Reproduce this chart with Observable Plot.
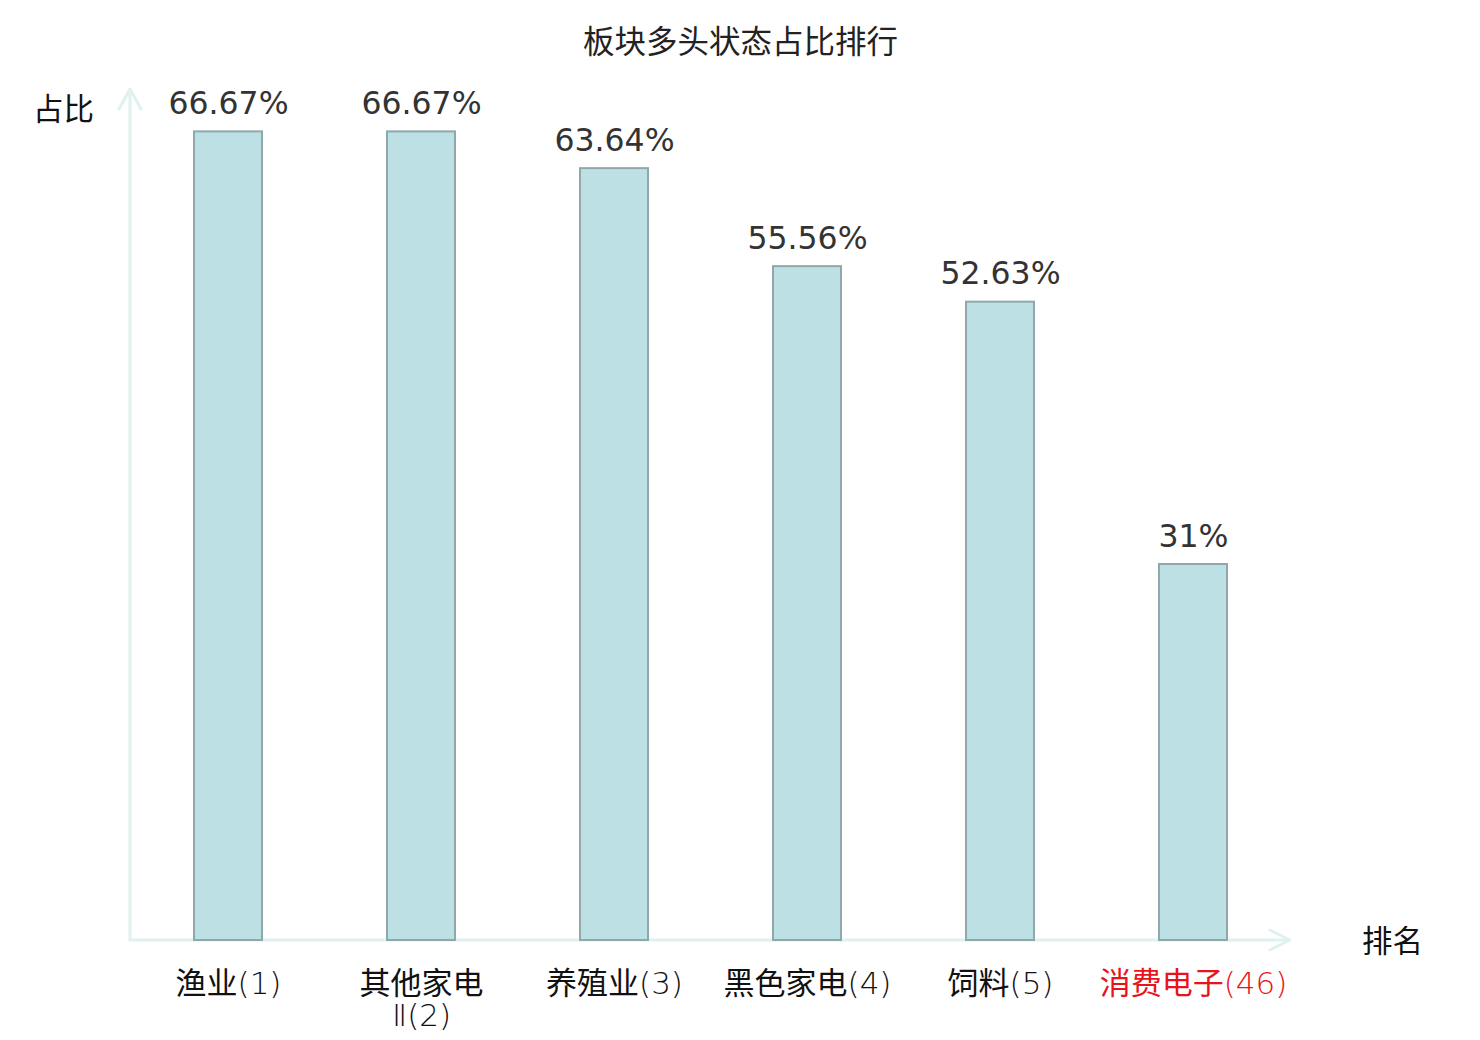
<!DOCTYPE html>
<html><head><meta charset="utf-8">
<script src="https://cdn.jsdelivr.net/npm/d3@7"></script>
<script src="https://cdn.jsdelivr.net/npm/@observablehq/plot@0.6"></script>
<style>body{margin:0;background:#fff}</style>
</head><body><div id="chart"></div>
<script>
const categories = ["渔业","其他家电Ⅱ","养殖业","黑色家电","饲料","消费电子"];
const values = [66.67, 66.67, 63.64, 55.56, 52.63, 31];
const valueLabels = ["66.67%","66.67%","63.64%","55.56%","52.63%","31%"];
const tickLabels = ["渔业(1)","其他家电\nⅡ(2)","养殖业(3)","黑色家电(4)","饲料(5)","消费电子(46)"];
const labelColors = ["#111","#111","#111","#111","#111","#e8141b"];
const title = "板块多头状态占比排行";
const yName = "占比";
const xName = "排名";

const data = categories.map((c, i) => ({category: c, value: values[i], label: valueLabels[i], tick: tickLabels[i], color: labelColors[i]}));

const chart = Plot.plot({
  width: 1480,
  height: 1040,
  marginLeft: 130,
  marginRight: 190,
  marginTop: 91,
  marginBottom: 100,
  style: {fontFamily: "'Noto Sans CJK SC', sans-serif", background: "#fff"},
  x: {domain: categories, paddingInner: 0.65, paddingOuter: 0.325, axis: null},
  y: {domain: [0, 70], axis: null},
  color: {type: "identity"},
  marks: [
    Plot.barY(data, {x: "category", y: "value", fill: "#bce0e3", stroke: "#8fa9ab", strokeWidth: 2}),
    Plot.text(data, {x: "category", y: "value", text: "label", lineAnchor: "bottom", dy: -18, fontSize: 31.5, fill: "#333", fontFamily: "DejaVu Sans"}),
    Plot.text(data, {x: "category", frameAnchor: "bottom", text: "tick", lineAnchor: "top", dy: 31, fontSize: 31, fill: "color", lineHeight: 1.02, fontFamily: "'Noto Sans CJK SC', sans-serif"}),
    Plot.text([title], {text: d => d, frameAnchor: "top", lineAnchor: "middle", dx: 30, dy: -49, fontSize: 31.5, fill: "#222"}),
    Plot.text([yName], {text: d => d, frameAnchor: "top-left", lineAnchor: "middle", textAnchor: "middle", dx: -67, dy: 19, fontSize: 30.5, fill: "#111"}),
    Plot.text([xName], {text: d => d, frameAnchor: "bottom-right", lineAnchor: "middle", textAnchor: "middle", dx: 102, dy: 2, fontSize: 30.5, fill: "#111"})
  ]
});
document.getElementById("chart").appendChild(chart);

// thin Latin part of the category labels (rank numbers)
const svgNS = "http://www.w3.org/2000/svg";
d3.select(chart).selectAll("text").each(function () {
  const spans = this.querySelectorAll("tspan");
  const nodes = spans.length ? [...spans] : [this];
  for (const n of nodes) {
    const s = n.textContent;
    if (!s || !tickLabels.some(t => t.split("\n").includes(s))) continue;
    const m = s.match(/^([\u4e00-\u9fff]*)(.*)$/);
    if (!m || !m[2]) continue;
    n.textContent = m[1];
    const t = document.createElementNS(svgNS, "tspan");
    t.setAttribute("font-family", "DejaVu Sans");
    t.setAttribute("font-weight", "200");
    t.textContent = m[2];
    n.appendChild(t);
  }
});

// axis lines with open arrowheads, placed from the plot's scales
const sx = chart.scale("x"), sy = chart.scale("y");
const x0 = sx.range[0], x1 = sx.range[1];
const y0 = sy.apply(0), yTop = sy.apply(70) - 2;
const svg = d3.select(chart);
const g = svg.append("g").attr("stroke", "#dff2ef").attr("stroke-width", 3).attr("fill", "none").attr("stroke-linecap", "round").attr("stroke-linejoin", "round");
g.append("path").attr("d", `M${x0},${y0}H${x1}M${x1-20},${y0-10}L${x1},${y0}L${x1-20},${y0+10}`);
g.append("path").attr("d", `M${x0},${y0}V${yTop}M${x0-11},${yTop+20}L${x0},${yTop}L${x0+11},${yTop+20}`);
g.lower();
</script>
</body></html>
